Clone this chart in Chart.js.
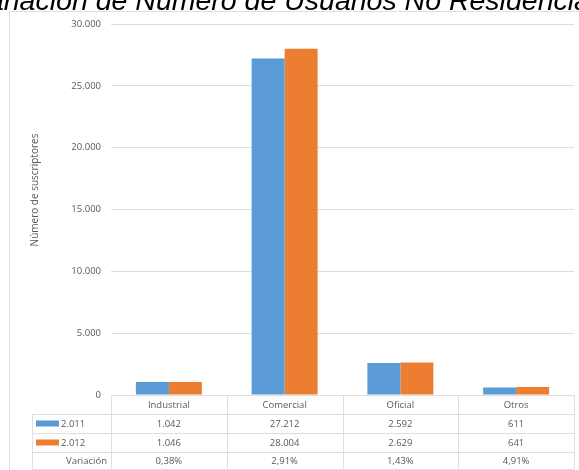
<!DOCTYPE html>
<html>
<head>
<meta charset="utf-8">
<script src="https://cdn.jsdelivr.net/npm/chart.js@4"></script>
<style>
  html, body { margin: 0; padding: 0; background: #fff; overflow: hidden; }
  #wrap { position: relative; width: 579px; height: 470px; overflow: hidden; }
  #title { position: absolute; left: -30px; top: -16px; white-space: nowrap;
    font: italic 28.5px "Liberation Sans", Arial, sans-serif; color: #000; z-index: 2; }
  canvas { position: absolute; left: 0; top: 0; }
</style>
</head>
<body>
<div id="wrap">
  <div id="title">Variación de Número de Usuarios No Residenciales</div>
  <canvas id="usuariosChart" width="579" height="470"></canvas>
</div>
<script>
const categories = ['Industrial', 'Comercial', 'Oficial', 'Otros'];
const seriesNames = ['2.011', '2.012'];
const values2011 = [1042, 27212, 2592, 611];
const values2012 = [1046, 28004, 2629, 641];
const variacion = ['0,38%', '2,91%', '1,43%', '4,91%'];
const yTicks = [0, 5000, 10000, 15000, 20000, 25000, 30000];
const yTitle = 'Número de suscriptores';

const blue = '#5b9bd5';
const orange = '#ed7d31';
const gridGray = '#dedede';
const textGray = '#595959';
const font = '"Open Sans", sans-serif';

function fmt(n) {
  return n.toString().replace(/\B(?=(\d{3})+(?!\d))/g, '.');
}

// data table under the plot, lined up with the x scale
const dataTable = {
  id: 'dataTable',
  afterDraw(chart) {
    const c = chart.ctx;
    const area = chart.chartArea;
    const xs = chart.scales.x;
    const colW = (area.right - area.left) / categories.length;
    const rows = [area.bottom, 414, 433, 452, 469];
    const labelLeft = 32;

    c.save();
    // chart frame
    c.strokeStyle = gridGray;
    c.lineWidth = 1;
    c.strokeRect(9.5, 11.5, 700, 700);

    // table lines
    c.beginPath();
    c.moveTo(area.left, rows[0] + 0.5); c.lineTo(area.right, rows[0] + 0.5);
    for (let i = 1; i < rows.length; i++) {
      c.moveTo(labelLeft, rows[i] + 0.5); c.lineTo(area.right, rows[i] + 0.5);
    }
    for (let i = 0; i <= categories.length; i++) {
      const x = Math.round(area.left + i * colW) + 0.5;
      c.moveTo(x, rows[0]); c.lineTo(x, rows[4]);
    }
    c.moveTo(labelLeft + 0.5, rows[1]); c.lineTo(labelLeft + 0.5, rows[4]);
    c.stroke();

    c.font = '9.5px ' + font;
    c.fillStyle = textGray;
    c.textBaseline = 'middle';
    c.textAlign = 'center';
    const tableRows = [categories, values2011.map(fmt), values2012.map(fmt), variacion];
    tableRows.forEach((row, r) => {
      const y = (rows[r] + rows[r + 1]) / 2 + 1;
      row.forEach((txt, i) => c.fillText(txt, xs.getPixelForValue(i), y));
    });

    // series keys
    [blue, orange].forEach((col, s) => {
      const y = (rows[s + 1] + rows[s + 2]) / 2;
      c.fillStyle = col;
      c.fillRect(36, y - 3, 23, 6);
      c.fillStyle = textGray;
      c.textAlign = 'left';
      c.fillText(seriesNames[s], 61, y + 1);
    });
    c.textAlign = 'right';
    c.fillText('Variación', 107, (rows[3] + rows[4]) / 2 + 1);

    // y axis title, sits a bit above the plot middle like the original
    c.translate(35, 190);
    c.rotate(-Math.PI / 2);
    c.textAlign = 'center';
    c.font = '10px ' + font;
    c.fillText(yTitle, 0, 0);
    c.restore();
  }
};

const ctx = document.getElementById('usuariosChart').getContext('2d');
const usuariosChart = new Chart(ctx, {
  type: 'bar',
  data: {
    labels: categories,
    datasets: [
      { label: seriesNames[0], data: values2011, backgroundColor: blue },
      { label: seriesNames[1], data: values2012, backgroundColor: orange }
    ]
  },
  options: {
    responsive: false,
    animation: false,
    events: [],
    datasets: { bar: { categoryPercentage: 0.57, barPercentage: 1 } },
    layout: { padding: { top: 24, right: 5, bottom: 0, left: 0 } },
    plugins: { legend: { display: false }, tooltip: { enabled: false } },
    scales: {
      x: {
        ticks: { display: false },
        grid: { display: false },
        border: { display: false },
        afterFit(scale) { scale.height = 75; }
      },
      y: {
        min: 0,
        max: 30000,
        afterFit(scale) { scale.width = 111; },
        afterBuildTicks(scale) { scale.ticks = yTicks.map(v => ({ value: v })); },
        ticks: {
          color: textGray,
          font: { family: font, size: 9.5 },
          padding: 10,
          callback: v => fmt(v)
        },
        grid: { color: gridGray, drawTicks: false },
        border: { display: false }
      }
    }
  },
  plugins: [dataTable]
});
</script>
</body>
</html>
